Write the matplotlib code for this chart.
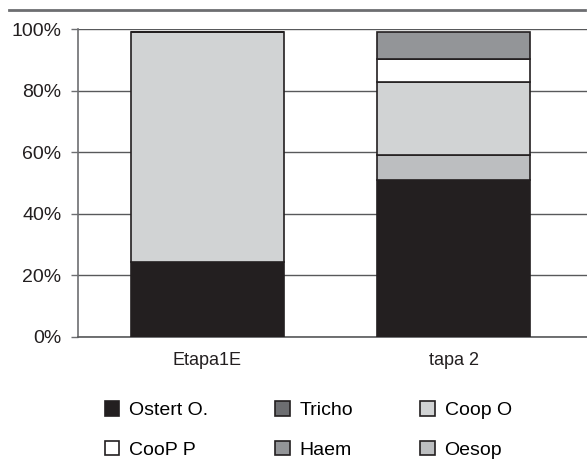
import matplotlib
matplotlib.use("Agg")
import matplotlib.pyplot as plt
from matplotlib.patches import Patch
from matplotlib.lines import Line2D

plt.rcParams['font.family'] = ['Liberation Sans', 'DejaVu Sans']

## Données

etapes = ["Etapa1E", "tapa 2"]

# pourcentages, du bas vers le haut
ostert = [24.5, 51.0]
oesop  = [0.0, 8.1]
coop_o = [74.6, 23.6]
coop_p = [0.0, 7.5]
tricho = [0.0, 0.0]
haem   = [0.0, 8.9]

series = [
    ("Ostert O.", ostert, "#231f20"),
    ("Oesop",     oesop,  "#bcbec0"),
    ("Coop O",    coop_o, "#d1d3d4"),
    ("CooP P",    coop_p, "#ffffff"),
    ("Tricho",    tricho, "#6d6e71"),
    ("Haem",      haem,   "#939598"),
]

yticks = [0, 20, 40, 60, 80, 100]

## Figure

fig = plt.figure(figsize=(5.87, 4.59), dpi=100)
ax = fig.add_axes([0.1329, 0.2658, 0.8671, 0.671])

x = list(range(len(etapes)))
bas = [0.0] * len(etapes)
for nom, vals, coul in series:
    ax.bar(x, vals, width=0.62, bottom=bas, color=coul,
           edgecolor="#231f20", linewidth=1.2, zorder=3)
    bas = [b + v for b, v in zip(bas, vals)]

ax.set_xlim(-0.525, 1.54)
ax.set_ylim(0, 100)
ax.set_yticks(yticks)
ax.set_yticklabels([f"{t}%" for t in yticks], fontsize=14, color="#231f20")
ax.set_xticks(x)
ax.set_xticklabels(etapes, fontsize=13, color="#231f20")
ax.tick_params(axis="x", length=0, pad=11)
ax.tick_params(axis="y", length=5, width=1, color="#6d6e71", pad=7)

ax.grid(axis="y", color="#58595b", linewidth=1, zorder=0)
for cote in ["top", "right"]:
    ax.spines[cote].set_visible(False)
ax.spines["left"].set_color("#6d6e71")
ax.spines["left"].set_linewidth(1.2)
ax.spines["bottom"].set_color("#58595b")
ax.spines["bottom"].set_linewidth(1.2)

# trait gris en haut
fig.add_artist(Line2D([9 / 587, 585 / 587], [1 - 10 / 459, 1 - 10 / 459],
                      color="#6d6e71", linewidth=2))

# légende (ordre colonne par colonne)
ordre = ["Ostert O.", "CooP P", "Tricho", "Haem", "Coop O", "Oesop"]
couleurs = {nom: coul for nom, _, coul in series}
poignees = [Patch(facecolor=couleurs[n], edgecolor="#231f20", linewidth=1.2,
                  label=n) for n in ordre]
fig.legend(handles=poignees, ncol=3, loc="center", frameon=False,
           bbox_to_anchor=(0.525, 1 - 430 / 459), fontsize=14,
           handlelength=0.75, handleheight=0.75, handletextpad=0.5,
           columnspacing=3.45, labelspacing=1.1)

fig.savefig("out.png", dpi=100)
